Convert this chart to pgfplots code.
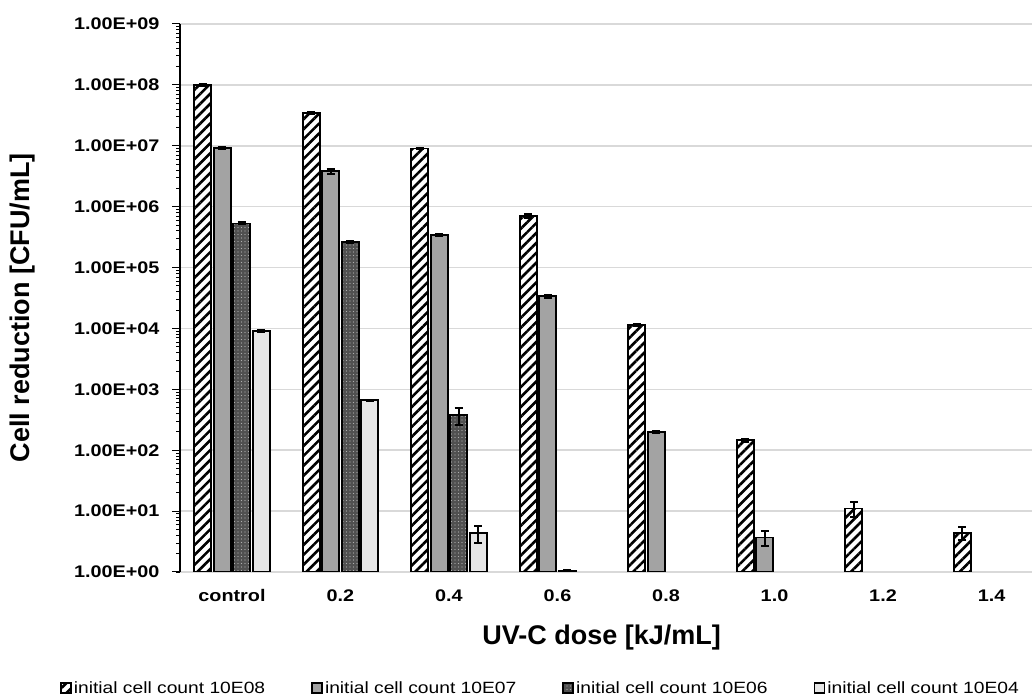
\documentclass[border=0pt]{standalone}
\usepackage{pgfplots}
\pgfplotsset{compat=1.18}
\usepackage{fontspec}
\setmainfont{Liberation Sans}
\newfontfamily\tickfont{Liberation Sans}[FakeStretch=1.18]
\usetikzlibrary{patterns.meta}
\definecolor{gridgray}{HTML}{D9D9D9}
\definecolor{midgray}{HTML}{A3A3A3}
\definecolor{lightgray}{HTML}{E6E6E6}
\definecolor{darkgray}{HTML}{505050}
\definecolor{dotgray}{HTML}{B0B0B0}
\begin{document}
\begin{tikzpicture}
\path[use as bounding box] (0,0) rectangle (1032pt,700pt);
\begin{axis}[
  at={(180pt,128pt)}, anchor=south west,
  scale only axis, width=852pt, height=548pt,
  ymode=log, ymin=1, ymax=1e9, log origin=infty,
  xmin=-0.479, xmax=7.373,
  xtick={0,1,2,3,4,5,6,7},
  xticklabels={control,0.2,0.4,0.6,0.8,1.0,1.2,1.4},
  ytick={1,10,100,1000,10000,100000,1000000,10000000,100000000,1000000000},
  yticklabels={1.00E+00,1.00E+01,1.00E+02,1.00E+03,1.00E+04,1.00E+05,1.00E+06,1.00E+07,1.00E+08,1.00E+09},
  /pgf/number format/assume math mode=true,
  axis lines*=left,
  axis line style={-},
  x axis line style={draw=gridgray, line width=1.5pt},
  y axis line style={draw=black, line width=1.2pt},
  major x tick style={draw=none},
  tick align=outside,
  major tick length=8pt, minor tick length=4pt,
  ytick style={black, line width=1pt},
  minor y tick style={black, line width=0.8pt},
  ymajorgrids, grid style={gridgray, line width=1.5pt},
  ticklabel style={font=\tickfont\fontsize{16.8}{18}\selectfont\bfseries},
  yticklabel style={xshift=-9pt},
  xticklabel style={yshift=-6pt},
  xlabel={UV-C dose [kJ/mL]},
  ylabel={Cell reduction [CFU/mL]},
  label style={font=\fontsize{27}{30}\selectfont\bfseries},
  xlabel style={at={(axis description cs:0.495,-0.1204)}, anchor=center},
  ylabel style={at={(axis description cs:-0.1843,0.4818)}, anchor=center, rotate=0},
  ybar, bar width=17pt,
  error bars/y dir=both, error bars/y explicit,
  error bars/error bar style={black, line width=1.6pt},
  error bars/error mark options={rotate=90, mark size=4pt, line width=2pt, black},
  legend columns=4,
  legend style={draw=none, fill=none, at={(axis description cs:0.423,-0.2117)}, anchor=center,
    font=\tickfont\fontsize{16.3}{18}\selectfont,
    /tikz/every odd column/.append style={column sep=0pt},
    /tikz/every even column/.append style={column sep=44pt}},
  legend image code/.code={\draw[#1, line width=1.8pt] (0pt,-5pt) rectangle (10pt,5pt);},
]
\addplot[draw=black, line width=1.8pt, fill=white,
  postaction={pattern={Lines[angle=45,distance=7pt,line width=2.6pt]}, pattern color=black},
  bar shift=-29.25pt]
  coordinates {(0,1e8) +- (0,3e6) (1,3.5e7) +- (0,1.5e6) (2,9e6) +- (0,3e5) (3,7e5) +- (0,5e4)
               (4,1.15e4) +- (0,5e2) (5,1.45e2) +- (0,1e1) (6,11) +- (0,3) (7,4.4) +- (0,1)};
\addlegendentry{initial cell count 10E08}
\addplot[draw=black, line width=1.8pt, fill=midgray, bar shift=-9.75pt]
  coordinates {(0,9.2e6) +- (0,3e5) (1,3.8e6) +- (0,4e5) (2,3.4e5) +- (0,1.5e4) (3,3.4e4) +- (0,2e3)
               (4,2.0e2) +- (0,1e1) (5,3.7) +- (0,1.0)};
\addlegendentry{initial cell count 10E07}
\addplot[draw=black, line width=1.8pt, fill=darkgray,
  postaction={pattern={Dots[radius=0.7pt,distance=3.5pt]}, pattern color=dotgray},
  bar shift=9.75pt]
  coordinates {(0,5.3e5) +- (0,2e4) (1,2.6e5) +- (0,1e4) (2,3.8e2) +- (0,1.2e2) (3,1.05) +- (0,0.04)};
\addlegendentry{initial cell count 10E06}
\addplot[draw=black, line width=1.8pt, fill=lightgray, bar shift=29.25pt]
  coordinates {(0,9e3) +- (0,3e2) (1,6.6e2) +- (0,2e1) (2,4.4) +- (0,1.4)};
\addlegendentry{initial cell count 10E04}
\end{axis}
\end{tikzpicture}
\end{document}
